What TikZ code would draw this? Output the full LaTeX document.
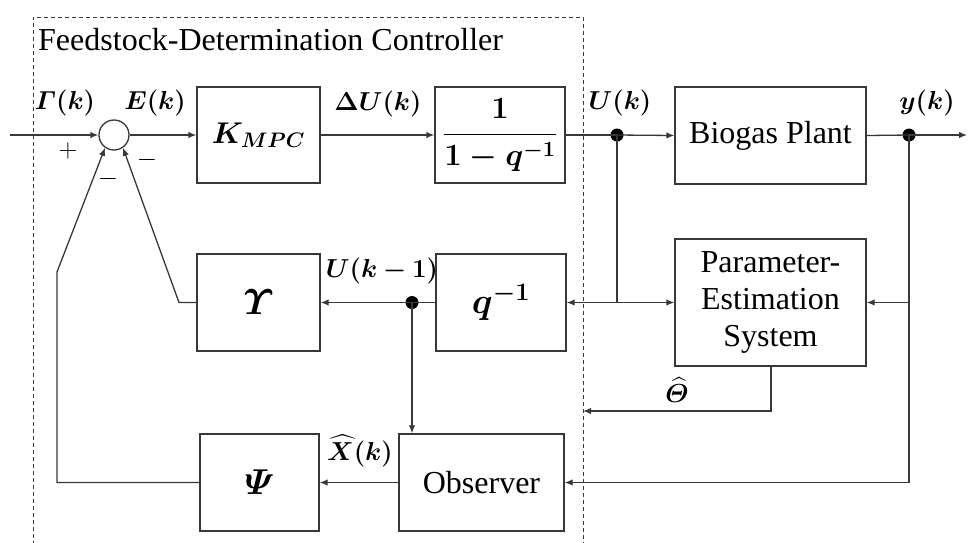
\RequirePackage{fix-cm}
\documentclass[tikz,border=0pt]{standalone}
\usepackage{amsmath}
\usepackage{bm}
\usepackage[no-math]{fontspec}
\setmainfont{Liberation Serif}
\usetikzlibrary{arrows.meta}
\begin{document}
\begin{tikzpicture}[x=1pt,y=-1pt,
  ln/.style={line width=1.3pt, draw=black!78},
  arr/.style={ln, -{Latex[length=8pt,width=6.5pt]}},
  blk/.style={draw=black!78, line width=1.3pt, inner sep=0pt, align=center,
              font=\fontsize{32}{37}\selectfont},
  lbl/.style={font=\fontsize{26}{30}\selectfont, inner sep=0pt},
  mth/.style={font=\fontsize{36}{40}\selectfont},
  dot/.style={circle, fill=black, inner sep=0pt, minimum size=13pt},
  sumc/.style={circle, draw=black!78, line width=1.3pt, inner sep=0pt, minimum size=30pt},
  frame/.style={draw=black!78, line width=1pt, dash pattern=on 4pt off 3pt}]
\useasboundingbox (0,0) rectangle (971,542);
% controller frame
\draw[frame] (33,545) -- (33,17) -- (583,17) -- (583,545);
\node[anchor=base west, inner sep=0pt, font=\fontsize{32}{37}\selectfont] (title) at (38,50) {Feedstock-Determination Controller};
% blocks
\node[blk, minimum width=123pt, minimum height=96pt, font=\fontsize{30}{34}\selectfont] (kmpc) at (258.5,135) {$\bm{K_{MPC}}$};
\node[blk, minimum width=130pt, minimum height=96pt] (integ) at (500,135) {\fontsize{31}{35}\selectfont$\displaystyle\bm{\frac{1}{1-q^{-1}}}$};
\node[blk, minimum width=191pt, minimum height=97pt] (plant) at (770.5,135.5) {Biogas Plant};
\node[blk, minimum width=191pt, minimum height=127pt] (pes) at (770.5,302.5) {Parameter-\\Estimation\\System};
\node[blk, mth, minimum width=123pt, minimum height=97pt] (ups) at (258.5,302.5) {$\bm{\varUpsilon}$};
\node[blk, mth, minimum width=130pt, minimum height=97pt] (qinv) at (501,302.5) {$\bm{q^{-1}}$};
\node[blk, mth, minimum width=119pt, minimum height=97pt] (psi) at (259.5,482.5) {$\bm{\varPsi}$};
\node[blk, minimum width=165pt, minimum height=97pt] (obs) at (481.5,482.5) {Observer};
\node[sumc] (sum) at (114,135) {};
% junction dots
\node[dot] (uk) at (617,135) {};
\node[dot] (yk) at (909,135) {};
\node[dot] (ukm) at (412,302.5) {};
\coordinate (in) at (10,135);
\coordinate (out) at (967,135);
\coordinate (ujoin) at (617,302.5);
\coordinate (yjoin1) at (909,302.5);
\coordinate (yjoin2) at (909,482.5);
\coordinate (upsbend) at (179,302.5);
\coordinate (psibend1) at (57,482.5);
\coordinate (psibend2) at (57,272);
\coordinate (thcorner) at (771,411);
\coordinate (thend) at (583,411);
% forward path
\draw[arr] (in) -- (sum.west);
\draw[arr] (sum.east) -- (kmpc.west);
\draw[arr] (kmpc.east) -- (integ.west);
\draw[ln] (integ.east) -- (uk.center);
\draw[arr] (uk.center) -- (plant.west);
\draw[ln] (plant.east) -- (yk.center);
\draw[arr] (yk.center) -- (out);
% U(k) branch
\draw[ln] (uk.center) -- (ujoin);
\draw[arr] (ujoin) -- (pes.west);
\draw[arr] (ujoin) -- (qinv.east);
% y(k) branch
\draw[ln] (yk.center) -- (yjoin2);
\draw[arr] (yjoin1) -- (pes.east);
\draw[arr] (yjoin2) -- (obs.east);
% delayed input
\draw[ln] (qinv.west) -- (ukm.center);
\draw[arr] (ukm.center) -- (ups.east);
\draw[arr] (ukm.center) -- (ukm |- obs.north);
\draw[arr] (obs.west) -- (psi.east);
% feedback to summation
\draw[arr] (ups.west) -- (upsbend) -- (sum.-55);
\draw[arr] (psi.west) -- (psibend1) -- (psibend2) -- (sum.-125);
% parameter estimate
\draw[arr] (pes.south -| thcorner) -- (thcorner) -- (thend);
% labels
\node[lbl] (lg) at (65,103) {$\bm{\varGamma(k)}$};
\node[lbl] (le) at (155,103) {$\bm{E(k)}$};
\node[lbl] (lplus) at (68,151) {$+$};
\node[lbl] (lm1) at (147,160) {$-$};
\node[lbl] (lm2) at (108,179) {$-$};
\node[lbl] (ldu) at (378,104) {$\bm{\Delta U(k)}$};
\node[lbl] (luk) at (620,103) {$\bm{U(k)}$};
\node[lbl] (lyk) at (927,103) {$\bm{y(k)}$};
\node[lbl] (lukm) at (382,271) {$\bm{U(k-1)}$};
\node[lbl] (lx) at (360,451) {$\bm{\widehat{X}(k)}$};
\node[lbl] (lth) at (677,390) {$\bm{\widehat{\varTheta}}$};
\end{tikzpicture}
\end{document}
